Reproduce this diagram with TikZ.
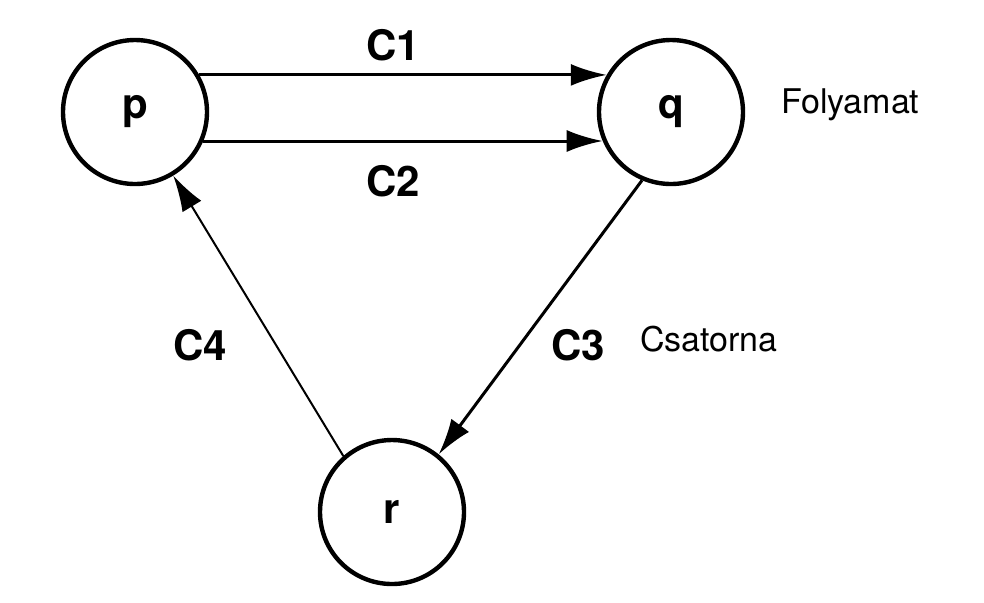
\documentclass[tikz,border=0pt]{standalone}
\usepackage{fontspec}
\setmainfont{TeX Gyre Heros}
\usetikzlibrary{arrows.meta}
\begin{document}
\begin{tikzpicture}[x=0.5pt,y=-0.5pt,
		proc/.style={draw,circle,line width=2.2pt,minimum size=72pt,inner sep=0pt,font=\fontsize{21}{23}\selectfont\bfseries},
		chan/.style={-{Latex[length=18pt,width=11pt]},line width=1.5pt},
		lbl/.style={font=\fontsize{21}{23}\selectfont\bfseries},
		note/.style={anchor=west,font=\fontsize{17}{19}\selectfont}]
		\useasboundingbox (0,0) rectangle (984,602);
		\node[proc] (p) at (135,112) {p};
		\node[proc] (q) at (671,112) {q};
		\node[proc] (r) at (392,512) {r};
		\draw[chan] (p.30) -- (q.150);
		\draw[chan] (p.-23) -- (q.203);
		\draw[chan] (q.247) -- (r.51);
		\draw[chan,line width=1pt] (r.131) -- (p.301);
		\node[lbl] (c1) at (393,45) {C1};
		\node[lbl] (c2) at (393,181) {C2};
		\node[lbl] (c3) at (578,345) {C3};
		\node[lbl] (c4) at (200,345) {C4};
		\node[note] (proclbl) at (774,105) {Folyamat};
		\node[note] (chanlbl) at (633,339) {Csatorna};
	\end{tikzpicture}
\end{document}
